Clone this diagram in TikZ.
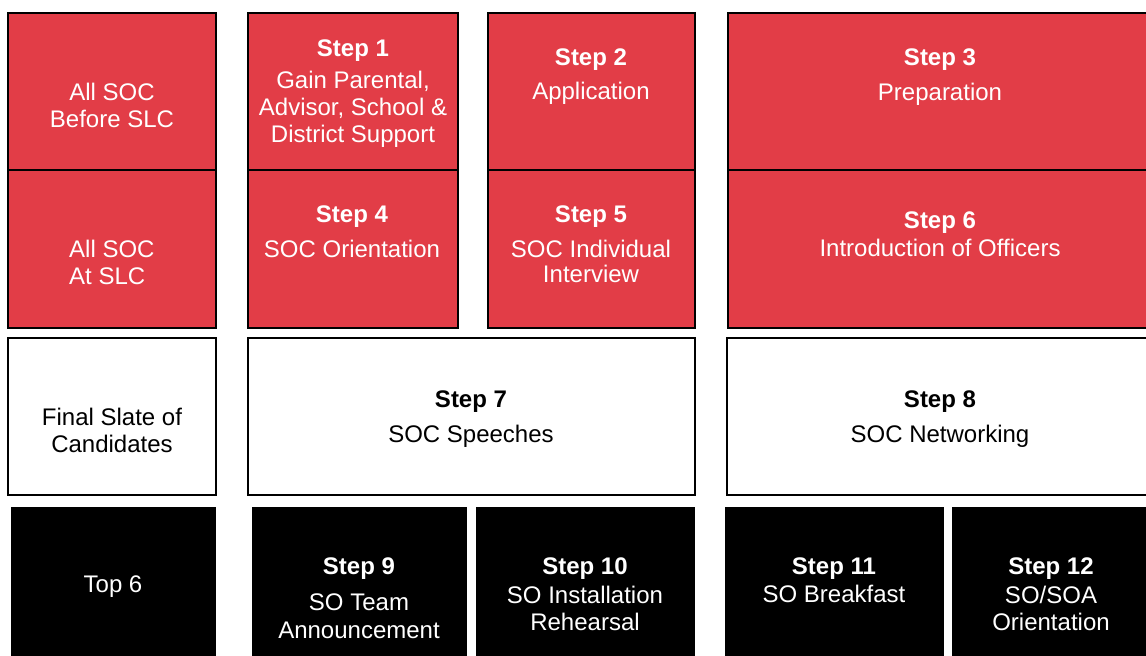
\documentclass[tikz,border=0pt]{standalone}
\usepackage{fontspec}
\setmainfont{Liberation Sans}
\usetikzlibrary{fit}
\definecolor{boxred}{RGB}{226,61,71}
\tikzset{
  redbox/.style={draw=black, line width=2.2pt, fill=boxred, inner sep=0pt},
  whitebox/.style={draw=black, line width=2.2pt, fill=white, inner sep=0pt},
  blackbox/.style={draw=none, fill=black, inner sep=0pt},
  lbl/.style={align=center, inner sep=0pt, font=\fontsize{24}{27}\selectfont},
  wlbl/.style={lbl, text=white},
  klbl/.style={lbl, text=black},
}
\begin{document}
\begin{tikzpicture}[x=1pt, y=-1pt]
\useasboundingbox (0,0) rectangle (1146,656);
\clip (0,0) rectangle (1146,656);
\fill[white] (0,0) rectangle (1146,656);
% red rows
\node[redbox, fit={(8,13) (216,170)}] (a1) {};
\node[redbox, fit={(248,13) (458,170)}] (s1) {};
\node[redbox, fit={(488,13) (695,170)}] (s2) {};
\node[redbox, fit={(728,13) (1152,170)}] (s3) {};
\node[redbox, fit={(8,170) (216,328)}] (a2) {};
\node[redbox, fit={(248,170) (458,328)}] (s4) {};
\node[redbox, fit={(488,170) (695,328)}] (s5) {};
\node[redbox, fit={(728,170) (1152,328)}] (s6) {};
% white row
\node[whitebox, fit={(8,338) (216,495)}] (fs) {};
\node[whitebox, fit={(248,338) (695,495)}] (s7) {};
\node[whitebox, fit={(727,338) (1152,495)}] (s8) {};
% black row
\node[blackbox, fit={(11,507) (216,660)}] (t6) {};
\node[blackbox, fit={(252,507) (467,660)}] (s9) {};
\node[blackbox, fit={(476,507) (695,660)}] (s10) {};
\node[blackbox, fit={(725,507) (944,660)}] (s11) {};
\node[blackbox, fit={(952,507) (1152,660)}] (s12) {};
% labels
\node[wlbl] (la1) at (112,105) {All SOC\\Before SLC};
\node[wlbl] (ls1) at (353,94) {\textbf{Step 1}\\[5pt]Gain Parental,\\Advisor, School \&\\District Support};
\node[wlbl] (ls2) at (591,77) {\textbf{Step 2}\\[7pt]Application};
\node[wlbl] (ls3) at (940,77.5) {\textbf{Step 3}\\[8pt]Preparation};
\node[wlbl, align=left, anchor=west] (la2) at (69,262) {All SOC\\At SLC};
\node[wlbl] (ls4) at (352,232) {\textbf{Step 4}\\[8pt]SOC Orientation};
\node[wlbl] (ls5) at (591,244.5) {\textbf{Step 5}\\[8pt]SOC Individual\\[-2pt]Interview};
\node[wlbl] (ls6) at (940,234) {\textbf{Step 6}\\[1pt]Introduction of Officers};
\node[klbl] (lfs) at (112,430.5) {Final Slate of\\Candidates};
\node[klbl] (ls7) at (471,419.5) {\textbf{Step 7}\\[8pt]SOC Speeches};
\node[klbl] (ls8) at (940,419.5) {\textbf{Step 8}\\[8pt]SOC Networking};
\node[wlbl] (lt6) at (113,587) {Top 6};
\node[wlbl] (ls9) at (359,598.5) {\textbf{Step 9}\\[9pt]SO Team\\[1pt]Announcement};
\node[wlbl] (ls10) at (585,594.5) {\textbf{Step 10}\\[2pt]SO Installation\\Rehearsal};
\node[wlbl] (ls11) at (834,580.5) {\textbf{Step 11}\\[1pt]SO Breakfast};
\node[wlbl] (ls12) at (1051,594.5) {\textbf{Step 12}\\[2pt]SO/SOA\\Orientation};
\end{tikzpicture}
\end{document}
